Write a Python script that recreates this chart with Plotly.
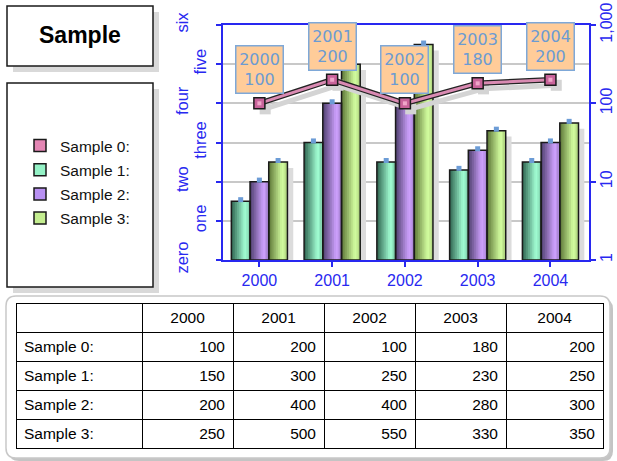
import math
import plotly.graph_objects as go

# ---------------- data ----------------
years = ['2000', '2001', '2002', '2003', '2004']
sample0 = [100, 200, 100, 180, 200]
sample1 = [150, 300, 250, 230, 250]
sample2 = [200, 400, 400, 280, 300]
sample3 = [250, 500, 550, 330, 350]
series_names = ['Sample 0:', 'Sample 1:', 'Sample 2:', 'Sample 3:']
left_tick_vals = [0, 100, 200, 300, 400, 500, 600]
left_tick_text = ['zero', 'one', 'two', 'three', 'four', 'five', 'six']
right_tick_vals = [1, 10, 100, 1000]
right_tick_text = ['1', '10', '100', '1,000']
title_text = 'Sample'

# ---------------- helpers ----------------
W, H = 617, 461
def px(x):
    return x / W
def py(y):
    return 1 - y / H

def hex2rgb(h):
    h = h.lstrip('#')
    return tuple(int(h[i:i + 2], 16) for i in (0, 2, 4))

def mix(c1, c2, t):
    a, b = hex2rgb(c1), hex2rgb(c2)
    t = max(0.0, min(1.0, t))
    return 'rgb(%d,%d,%d)' % tuple(round(a[i] + (b[i] - a[i]) * t) for i in range(3))

def profile(t):
    return t / 0.72 if t < 0.72 else 1 - (t - 0.72) * 1.1

BLUE = '#2828F0'
FONT = 'Liberation Sans, Arial, sans-serif'

idx = list(range(len(years)))
bw = 0.257
NSTRIPE = 10
bar_series = [
    (sample1, '#2E624F', '#A2FFD4', '#94F2C6'),
    (sample2, '#4E3F6E', '#CFA2FF', '#B890F2'),
    (sample3, '#5C7536', '#D4FFA0', '#C4EE90'),
]

fig = go.Figure()

# shadows
for s, (vals, dark, light, leg) in enumerate(bar_series):
    left = (s - 1.5) * bw
    fig.add_trace(go.Bar(x=idx, y=[v - 15 for v in vals], offset=left + 0.08, width=bw,
                         marker=dict(color='#DCDCDC', line=dict(width=0)),
                         showlegend=False, hoverinfo='skip'))

# gradient bars
for s, (vals, dark, light, leg) in enumerate(bar_series):
    left = (s - 1.5) * bw
    for k in range(NSTRIPE):
        t = (k + 0.5) / NSTRIPE
        fig.add_trace(go.Bar(x=idx, y=vals, offset=left + k * bw / NSTRIPE,
                             width=bw - k * bw / NSTRIPE,
                             marker=dict(color=mix(dark, light, profile(t)), line=dict(width=0)),
                             showlegend=False, hoverinfo='skip'))

# blue dots on bar tops
for s, (vals, dark, light, leg) in enumerate(bar_series):
    left = (s - 1.5) * bw
    fig.add_trace(go.Scatter(x=[i + left + bw / 2 for i in idx], y=[v + 4 for v in vals],
                             mode='markers', marker=dict(symbol='square', size=5, color='#6C9CD6'),
                             showlegend=False, hoverinfo='skip'))

# outlines
for s, (vals, dark, light, leg) in enumerate(bar_series):
    left = (s - 1.5) * bw
    fig.add_trace(go.Bar(x=idx, y=vals, offset=left, width=bw,
                         marker=dict(color='rgba(0,0,0,0)', line=dict(color='#1A1A1A', width=1.5)),
                         showlegend=False, hoverinfo='skip'))

# invisible trace so the staggered label axis is drawn
fig.add_trace(go.Scatter(x=[None], y=[None], yaxis='y3', mode='markers',
                         showlegend=False, hoverinfo='skip'))

# sample 0 line on log axis
fig.add_trace(go.Scatter(x=[i + 0.08 for i in idx], y=[v * 0.85 for v in sample0], yaxis='y2',
                         mode='lines+markers', line=dict(color='#D4D4D4', width=5),
                         marker=dict(symbol='square', size=11, color='#D4D4D4'),
                         showlegend=False, hoverinfo='skip'))
fig.add_trace(go.Scatter(x=idx, y=sample0, yaxis='y2', mode='lines',
                         line=dict(color='#222222', width=5.5),
                         showlegend=False, hoverinfo='skip'))
fig.add_trace(go.Scatter(x=idx, y=sample0, yaxis='y2', mode='lines',
                         line=dict(color='#D98AB2', width=3),
                         showlegend=False, hoverinfo='skip'))
fig.add_trace(go.Scatter(x=idx, y=sample0, yaxis='y2', mode='markers',
                         marker=dict(symbol='square', size=11, color='#C8639A',
                                     line=dict(color='#1A1A1A', width=1.5)),
                         showlegend=False, hoverinfo='skip'))
fig.add_trace(go.Scatter(x=idx, y=sample0, yaxis='y2', mode='markers',
                         marker=dict(symbol='square', size=4, color='#EFA6C9'),
                         showlegend=False, hoverinfo='skip'))

# legend entries
legend_colors = ['#E486B4', bar_series[0][3], bar_series[1][3], bar_series[2][3]]
for name, col in zip(series_names, legend_colors):
    fig.add_trace(go.Bar(x=[None], y=[None], name=name, legendgroup=name,
                         marker=dict(color=col, line=dict(color='#1A1A1A', width=1.5))))

# data label boxes
annotations = []
for i, (yr, v) in enumerate(zip(years, sample0)):
    annotations.append(dict(x=i, y=math.log10(v), xref='x', yref='y2',
                            text='%s<br>%d' % (yr, v), showarrow=False,
                            yanchor='bottom', yshift=9,
                            font=dict(family='DejaVu Sans', size=16, color='#6C9BD2'),
                            bgcolor='#FFCC99', bordercolor='#7EA8D8', borderwidth=1.5,
                            width=44, height=44, borderpad=1))
annotations.append(dict(x=px(80), y=py(35), xref='paper', yref='paper', text='<b>%s</b>' % title_text,
                        xanchor='center', yanchor='middle',
                        showarrow=False, font=dict(family=FONT, size=23, color='black')))

# table
table_cols = [series_names] + [[sample0[j], sample1[j], sample2[j], sample3[j]] for j in idx]
fig.add_trace(go.Table(
    domain=dict(x=[px(16), px(603)], y=[py(452), py(303)]),
    columnwidth=[126, 91, 91, 91, 91, 97],
    header=dict(values=[''] + years, height=29, align='center',
                font=dict(family=FONT, size=15.5, color='black'),
                fill=dict(color='white'), line=dict(color='black', width=1)),
    cells=dict(values=table_cols, height=29, align=['left'] + ['right'] * 5,
               font=dict(family=FONT, size=15.5, color='black'),
               fill=dict(color='white'), line=dict(color='black', width=1)),
))

def rrect_path(x0, y0, x1, y1, r):
    pts = [
        ('M', (x0 + r, y0)), ('L', (x1 - r, y0)), ('Q', (x1, y0), (x1, y0 + r)),
        ('L', (x1, y1 - r)), ('Q', (x1, y1), (x1 - r, y1)), ('L', (x0 + r, y1)),
        ('Q', (x0, y1), (x0, y1 - r)), ('L', (x0, y0 + r)), ('Q', (x0, y0), (x0 + r, y0)),
    ]
    out = []
    for p in pts:
        out.append(p[0] + ' '.join('%.5f,%.5f' % (px(a), py(b)) for a, b in p[1:]))
    return ' '.join(out) + ' Z'

shapes = [
    # title box
    dict(type='rect', xref='paper', yref='paper', x0=px(13), x1=px(159), y0=py(72), y1=py(12),
         fillcolor='#D9D9D9', line=dict(width=0), layer='below'),
    dict(type='rect', xref='paper', yref='paper', x0=px(7), x1=px(153), y0=py(66), y1=py(6),
         fillcolor='white', line=dict(color='#1A1A1A', width=1.5), layer='below'),
    # legend box
    dict(type='rect', xref='paper', yref='paper', x0=px(13), x1=px(159), y0=py(293), y1=py(89),
         fillcolor='#D9D9D9', line=dict(width=0), layer='below'),
    dict(type='rect', xref='paper', yref='paper', x0=px(7), x1=px(153), y0=py(287), y1=py(83),
         fillcolor='white', line=dict(color='#1A1A1A', width=1.5), layer='below'),
    # table rounded box
    dict(type='path', xref='paper', yref='paper', path=rrect_path(9, 299, 613, 461, 10),
         fillcolor='#C4C4C4', line=dict(width=0), layer='below'),
    dict(type='path', xref='paper', yref='paper', path=rrect_path(6, 296, 610, 458, 10),
         fillcolor='white', line=dict(color='#C8C8C8', width=1.5), layer='below'),
]

axis_font = dict(family=FONT, size=16.5, color=BLUE)
fig.update_layout(
    width=W, height=H, margin=dict(l=0, r=0, t=0, b=0, autoexpand=False),
    paper_bgcolor='white', plot_bgcolor='white',
    barmode='overlay', hovermode=False,
    showlegend=True,
    legend=dict(x=px(20), y=py(182), xanchor='left', yanchor='middle',
                bgcolor='rgba(0,0,0,0)', font=dict(family=FONT, size=15.5, color='#111111'),
                traceorder='grouped', tracegroupgap=1),
    xaxis=dict(domain=[px(223), px(589)], range=[-0.5, 4.53], tickvals=idx, ticktext=years,
               ticks='outside', ticklen=5, tickcolor=BLUE, tickwidth=1.5,
               showline=True, linecolor=BLUE, linewidth=2, mirror=True,
               showgrid=False, zeroline=False, tickfont=dict(family=FONT, size=16, color=BLUE)),
    yaxis=dict(domain=[py(260), py(25)], range=[0, 600], tickvals=left_tick_vals,
               ticktext=[t if i % 2 == 1 else '' for i, t in enumerate(left_tick_text)],
               tickangle=-90, ticks='outside', ticklen=5, tickcolor=BLUE, tickwidth=1.5,
               showline=True, linecolor=BLUE, linewidth=2,
               showgrid=True, gridcolor='#C8C8C8', gridwidth=1.5, zeroline=False,
               tickfont=axis_font, ticklabelstandoff=3),
    yaxis3=dict(overlaying='y', side='left', anchor='x', range=[0, 600],
                tickvals=left_tick_vals,
                ticktext=[t if i % 2 == 0 else '' for i, t in enumerate(left_tick_text)],
                tickangle=-90, ticks='', showline=False, showgrid=False, zeroline=False,
                tickfont=axis_font, ticklabelstandoff=31),
    yaxis2=dict(overlaying='y', side='right', anchor='x', type='log', range=[0, 3],
                tickvals=right_tick_vals, ticktext=right_tick_text, tickangle=-90,
                ticks='outside', ticklen=5, tickcolor=BLUE, tickwidth=1.5,
                showline=True, linecolor=BLUE, linewidth=2, showgrid=False, zeroline=False,
                tickfont=dict(family=FONT, size=16, color=BLUE), ticklabelstandoff=-3),
    annotations=annotations,
    shapes=shapes,
)

fig.write_html('out.html')
